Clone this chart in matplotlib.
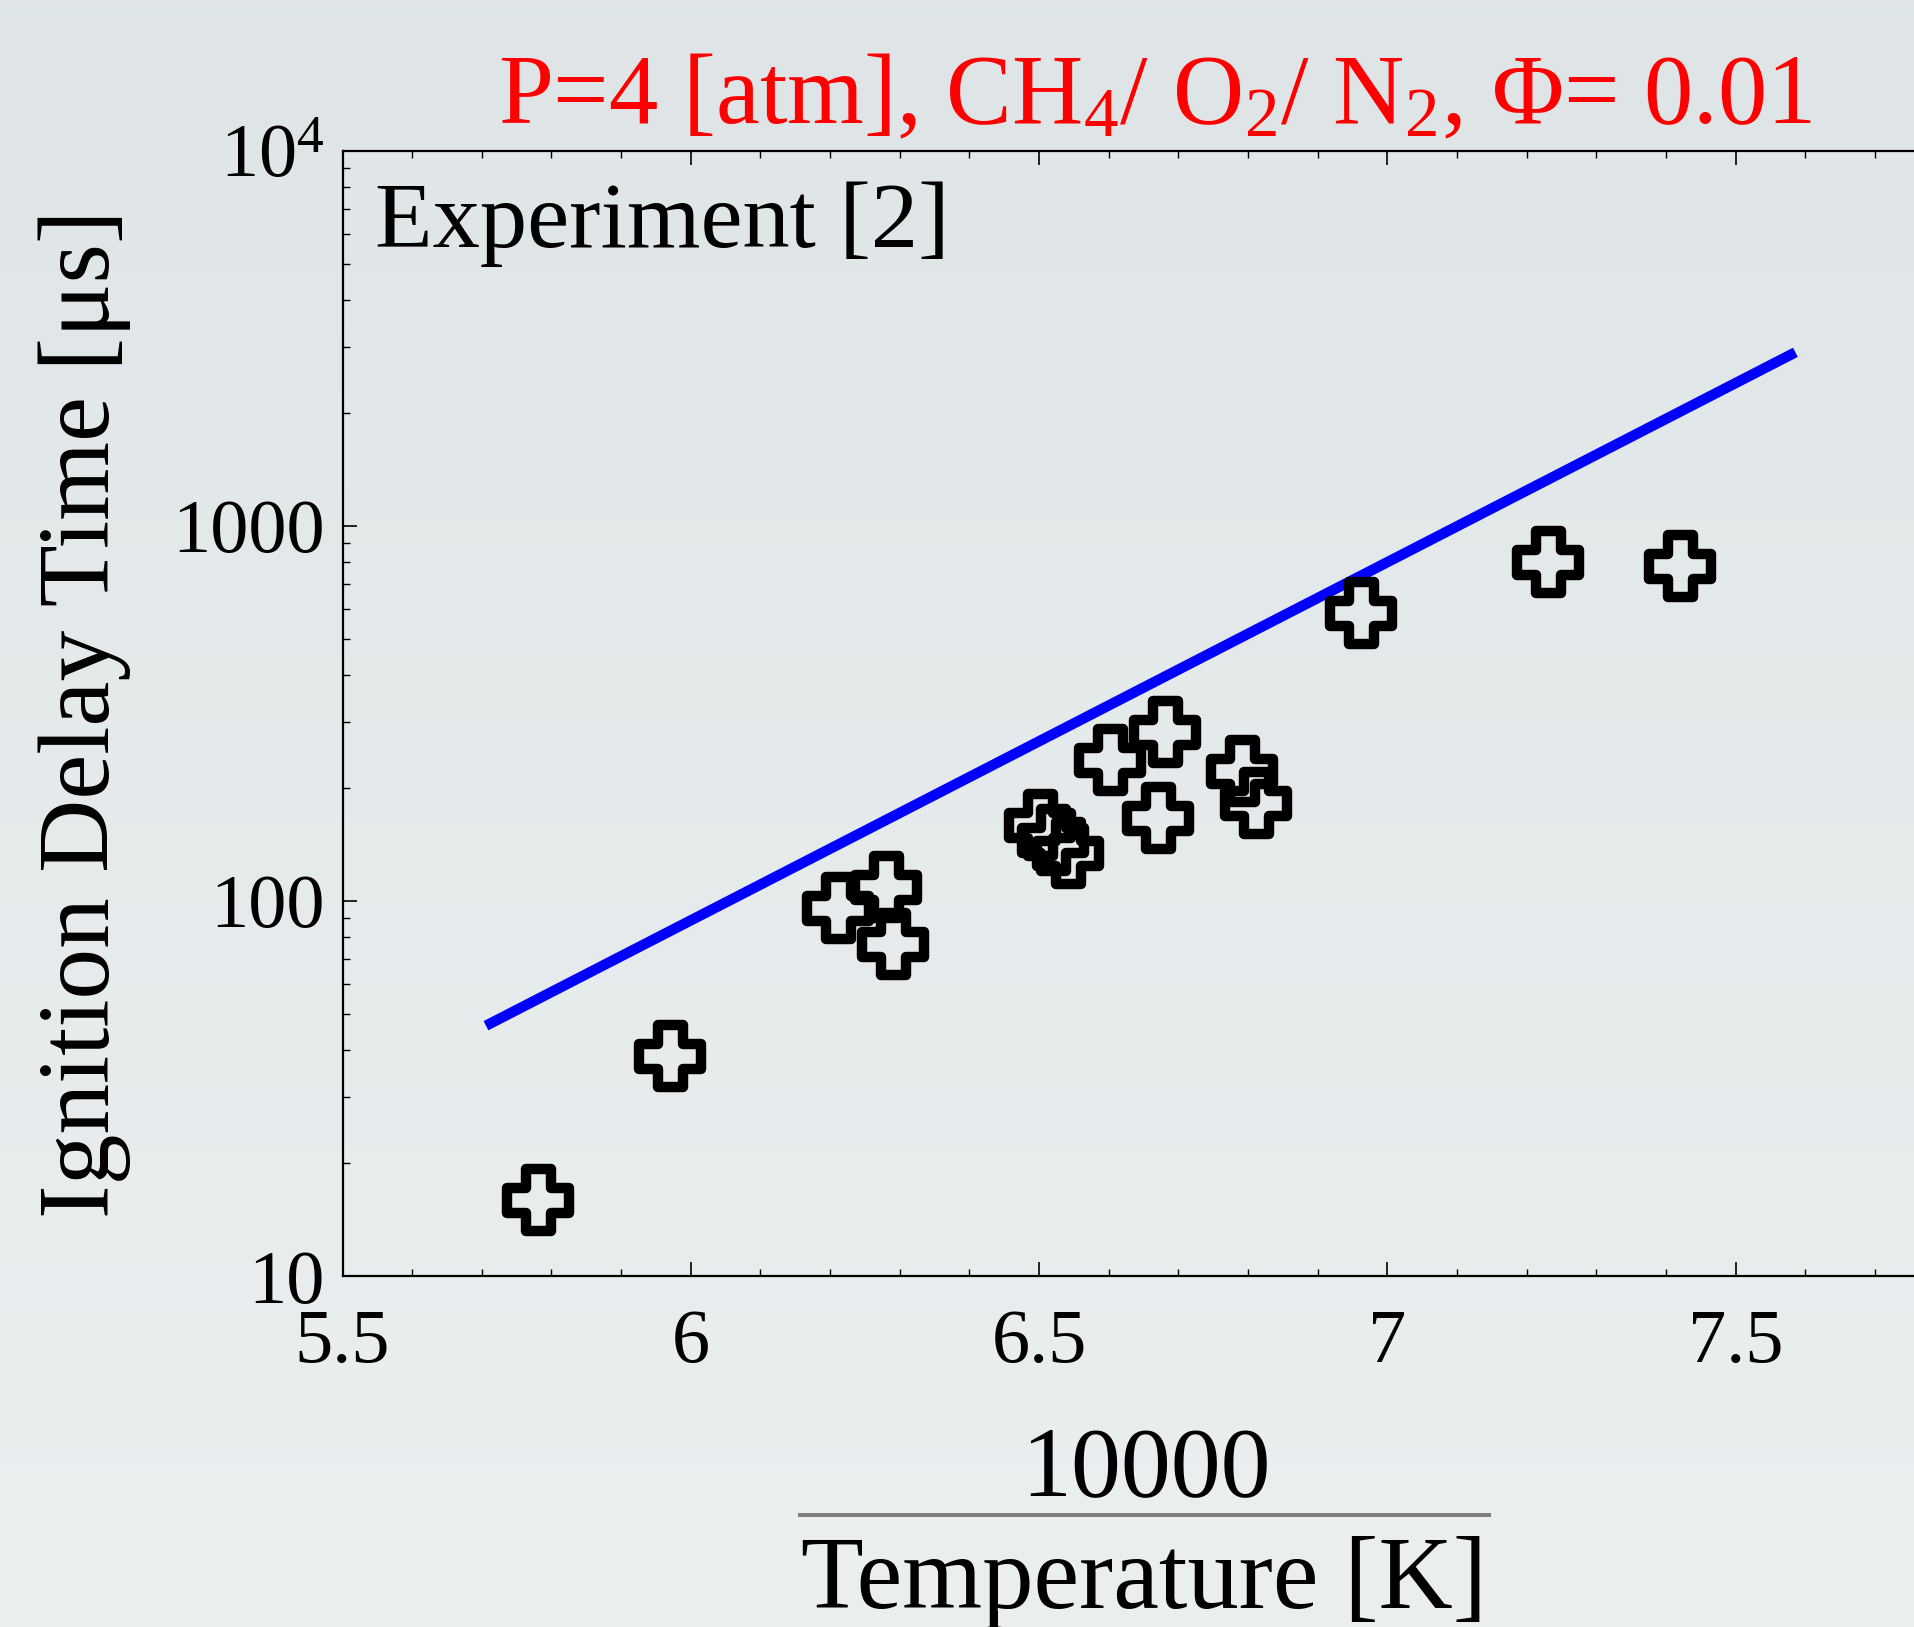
import numpy as np
import matplotlib
matplotlib.use('Agg')
import matplotlib.pyplot as plt
from matplotlib.path import Path
from matplotlib.markers import MarkerStyle
from matplotlib.lines import Line2D
from matplotlib.ticker import LogLocator, MultipleLocator, NullFormatter

# ---------------- data ----------------
inv_temp = [5.780, 5.970, 6.212, 6.281, 6.291, 6.501, 6.520, 6.541,
            6.602, 6.681, 6.671, 6.791, 6.811, 6.962, 7.231, 7.421]
delay = [15.95, 38.6, 95.6, 109.2, 76.8, 159.5, 145.4, 134.1,
         237.7, 282.8, 166.1, 222.2, 182.2, 587.2, 800.3, 783.4]
model_x = [5.706, 7.586]
model_y = [46.5, 2905.0]
xticks = [5.5, 6, 6.5, 7, 7.5]
xtick_labels = ['5.5', '6', '6.5', '7', '7.5']
yticks = [10, 100, 1000, 10000]
ytick_labels = ['10', '100', '1000', '$10^4$']
title_text = 'P=4 [atm], CH$_4$/ O$_2$/ N$_2$, \u03a6= 0.01'
annot_text = 'Experiment [2]'
ylabel_text = 'Ignition Delay Time [\u03bcs]'
xlabel_num = '10000'
xlabel_den = 'Temperature [K]'

# ---------------- style ----------------
plt.rcParams['font.family'] = ['Liberation Serif', 'DejaVu Serif']
plt.rcParams['mathtext.fontset'] = 'custom'
plt.rcParams['mathtext.rm'] = 'Liberation Serif'
plt.rcParams['mathtext.it'] = 'Liberation Serif:italic'
plt.rcParams['mathtext.bf'] = 'Liberation Serif:bold'

W, H = 1914, 1627
fig = plt.figure(figsize=(W / 100, H / 100), dpi=100)

# background gradient
bg = fig.add_axes([0, 0, 1, 1], zorder=-10)
top_c = np.array([0.874, 0.898, 0.906])
bot_c = np.array([0.925, 0.937, 0.941])
t = np.linspace(0, 1, 256)[:, None, None]
grad = top_c[None, None, :] * (1 - t) + bot_c[None, None, :] * t
bg.imshow(grad, aspect='auto', extent=[0, 1, 0, 1], interpolation='bilinear')
bg.axis('off')

# main axes (right part runs past the figure edge, as in the reference)
x_left_px, x_unit_px = 342.5, 696.5
xmin, xmax = 5.5, 7.8
ax_w = (xmax - xmin) * x_unit_px / W
ax = fig.add_axes([x_left_px / W, 351 / H, ax_w, 1125 / H])
ax.set_facecolor('none')
ax.set_yscale('log')
ax.set_xlim(xmin, xmax)
ax.set_ylim(10, 1e4)

# model line
ax.plot(model_x, model_y, color='#0000ff', lw=7.5, solid_capstyle='butt', zorder=2)

# cross marker (outlined Greek cross)
a = 0.40
verts = [(-a, -1), (a, -1), (a, -a), (1, -a), (1, a), (a, a), (a, 1),
         (-a, 1), (-a, a), (-1, a), (-1, -a), (-a, -a), (-a, -1)]
codes = [Path.MOVETO] + [Path.LINETO] * 11 + [Path.CLOSEPOLY]
cross = MarkerStyle(Path(verts, codes), joinstyle='miter')
ax.plot(inv_temp, delay, ls='none', marker=cross, ms=45, mew=7.5,
        mec='black', mfc='none', zorder=3)

# ticks
ax.set_xticks(xticks, xtick_labels)
ax.xaxis.set_minor_locator(MultipleLocator(0.1))
ax.set_yticks(yticks, ytick_labels)
ax.yaxis.set_minor_locator(LogLocator(base=10, subs=np.arange(2, 10)))
ax.yaxis.set_minor_formatter(NullFormatter())
ax.tick_params(which='both', direction='in', top=True, right=False,
               labelsize=55, colors='black')
ax.tick_params(which='major', length=10, width=1.2)
ax.tick_params(which='minor', length=5, width=1.0)
ax.tick_params(axis='x', pad=24)
ax.tick_params(axis='y', pad=13)
for s in ['left', 'bottom', 'top']:
    ax.spines[s].set_linewidth(1.6)
ax.spines['right'].set_visible(False)

# texts
fig.text(1155 / W, 1 - 123 / H, title_text, color='#ff0000', fontsize=71,
         ha='center', va='baseline')
fig.text(375 / W, 1 - 247 / H, annot_text, color='black', fontsize=68,
         ha='left', va='baseline')
fig.text(109 / W, 1 - 713.5 / H, ylabel_text, fontsize=73, rotation=90,
         rotation_mode='anchor', ha='center', va='baseline')
fig.text(1146 / W, 1 - 1495 / H, xlabel_num, fontsize=72, ha='center', va='baseline')
fig.add_artist(Line2D([800 / W, 1489 / W], [1 - 1515 / H, 1 - 1515 / H],
                      transform=fig.transFigure, color='#7f7f7f', lw=2.9))
fig.text(1144 / W, 1 - 1608 / H, xlabel_den, fontsize=74, ha='center', va='baseline')

fig.savefig('out.png', dpi=100)
